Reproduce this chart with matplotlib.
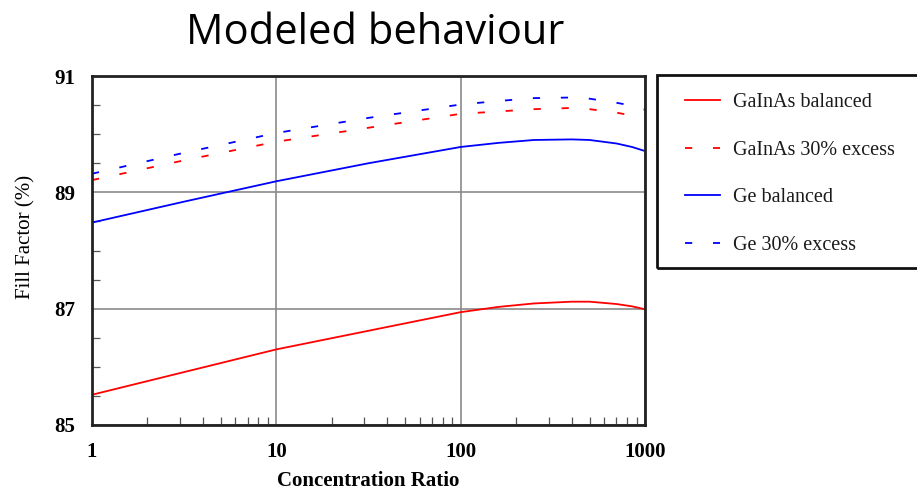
import matplotlib
matplotlib.use("Agg")
import matplotlib.pyplot as plt
from matplotlib.ticker import FixedLocator, NullFormatter, LogLocator
from matplotlib.patches import Rectangle

conc = [1, 3.16, 10, 31.6, 100, 160, 250, 400, 500, 700, 850, 1000]
gainas_bal = [85.52, 85.91, 86.30, 86.62, 86.94, 87.03, 87.09, 87.12, 87.12, 87.08, 87.04, 86.99]
gainas_exc = [89.21, 89.55, 89.87, 90.11, 90.35, 90.39, 90.43, 90.45, 90.43, 90.37, 90.32, 90.25]
ge_bal = [88.48, 88.84, 89.19, 89.50, 89.78, 89.85, 89.90, 89.91, 89.90, 89.84, 89.78, 89.71]
ge_exc = [89.32, 89.68, 90.02, 90.28, 90.51, 90.57, 90.62, 90.63, 90.61, 90.54, 90.49, 90.42]

labels = ["GaInAs balanced", "GaInAs 30% excess", "Ge balanced", "Ge 30% excess"]
xticks = [1, 10, 100, 1000]
yticks = [85, 87, 89, 91]

W, H = 917, 495
fig = plt.figure(figsize=(W / 100, H / 100), dpi=100)
ax = fig.add_axes([92 / W, 1 - 425 / H, (645 - 92) / W, (425 - 76) / H])

lw = 1.3
dash = (0, (4.0, 11.5))
l1, = ax.plot(conc, gainas_bal, color="#ff0000", lw=lw)
l2, = ax.plot(conc, gainas_exc, color="#ff0000", lw=lw, linestyle=dash)
l3, = ax.plot(conc, ge_bal, color="#0000ff", lw=lw)
l4, = ax.plot(conc, ge_exc, color="#0000ff", lw=lw, linestyle=dash)

ax.set_xscale("log")
ax.set_xlim(1, 1000)
ax.set_ylim(85, 91)
ax.set_xticks(xticks)
ax.set_xticklabels([str(t) for t in xticks])
ax.xaxis.set_minor_locator(LogLocator(base=10, subs=range(2, 10)))
ax.xaxis.set_minor_formatter(NullFormatter())
ax.set_yticks(yticks)
ax.set_yticklabels([str(t) for t in yticks])
ax.yaxis.set_minor_locator(FixedLocator([85.5, 86, 86.5, 87.5, 88, 88.5, 89.5, 90, 90.5]))

ax.grid(True, which="major", color="#8a8a8a", lw=1.2)
ax.tick_params(which="major", length=0, pad=12)
ax.tick_params(which="minor", direction="in", length=6, width=0.9, color="#555555")
for lab in ax.get_xticklabels() + ax.get_yticklabels():
    lab.set_fontfamily("Liberation Serif")
    lab.set_fontweight("bold")
    lab.set_fontsize(15)
for s in ax.spines.values():
    s.set_linewidth(2)
    s.set_color("#222222")

ax.set_xlabel("Concentration Ratio", fontfamily="Liberation Serif", fontweight="bold",
              fontsize=15, labelpad=7)
ax.set_ylabel("Fill Factor (%)", fontfamily="Liberation Serif", fontsize=15)
ax.yaxis.set_label_coords((35 - 92) / 553, (425 - 237) / 349)

fig.text(375 / W, 1 - 33 / H, "Modeled behaviour", fontfamily="Open Sans", fontsize=30,
         ha="center", va="center")

# legend frame (extends past the right edge like the reference)
fig.add_artist(Rectangle((657 / W, 1 - 268 / H), (930 - 657) / W, (268 - 75) / H,
                         transform=fig.transFigure, fill=False, edgecolor="#111111",
                         lw=2, clip_on=False))
leg = fig.legend([l1, l2, l3, l4], labels, loc="upper left",
                 bbox_to_anchor=(685 / W, 1 - 93 / H), frameon=False,
                 prop={"family": "Liberation Serif", "size": 14.5}, handlelength=1.75,
                 labelspacing=1.42, borderpad=0, handletextpad=0.65, borderaxespad=0)
for t in leg.get_texts():
    t.set_color("#1a1a1a")

fig.savefig("out.png", dpi=100)
